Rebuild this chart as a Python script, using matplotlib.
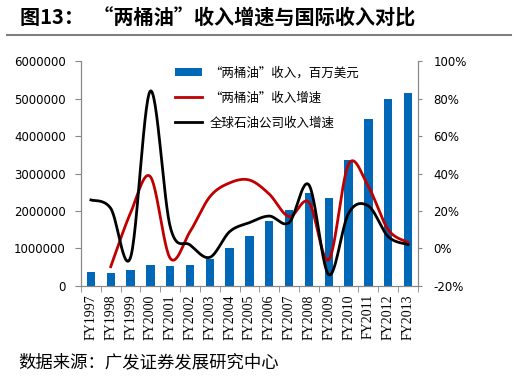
import numpy as np
import matplotlib
matplotlib.use("Agg")
import matplotlib.pyplot as plt
from matplotlib.ticker import FuncFormatter, FixedLocator

plt.rcParams['font.family'] = ['DejaVu Sans', 'Noto Sans CJK SC']

years = ['FY1997', 'FY1998', 'FY1999', 'FY2000', 'FY2001', 'FY2002', 'FY2003',
         'FY2004', 'FY2005', 'FY2006', 'FY2007', 'FY2008', 'FY2009', 'FY2010',
         'FY2011', 'FY2012', 'FY2013']

# "两桶油" revenue, million USD
revenue = [380000, 340000, 420000, 560000, 530000, 560000, 730000, 1010000,
           1340000, 1740000, 2020000, 2490000, 2340000, 3350000, 4460000,
           4990000, 5150000]

# "两桶油" revenue growth (%), starts at FY1998
growth_cn = [-9.7, 19.0, 38.3, -5.2, 9.0, 27.6, 35.0, 36.5, 29.0, 17.0,
             24.6, -6.0, 45.0, 33.0, 10.0, 3.3]

# global oil companies revenue growth (%)
growth_world = [25.9, 21.4, -4.7, 84.0, 11.6, 1.9, -4.7, 9.0, 13.8, 17.3,
                13.8, 33.9, -14.0, 18.8, 22.7, 6.3, 2.1]

CJK = ['Noto Sans CJK SC', 'DejaVu Sans']


def smooth(xs, ys, n=30):
    # Excel-style smoothed line (Catmull-Rom Bezier through the points)
    xs = np.asarray(xs, float)
    ys = np.asarray(ys, float)
    px = np.concatenate([[xs[0]], xs, [xs[-1]]])
    py = np.concatenate([[ys[0]], ys, [ys[-1]]])
    out_x, out_y = [], []
    t = np.linspace(0, 1, n)
    for i in range(1, len(px) - 2):
        p0 = np.array([px[i], py[i]])
        p3 = np.array([px[i + 1], py[i + 1]])
        b1 = p0 + (np.array([px[i + 1], py[i + 1]]) - np.array([px[i - 1], py[i - 1]])) / 6
        b2 = p3 - (np.array([px[i + 2], py[i + 2]]) - np.array([px[i], py[i]])) / 6
        pts = ((1 - t) ** 3)[:, None] * p0 + (3 * (1 - t) ** 2 * t)[:, None] * b1 \
            + (3 * (1 - t) * t ** 2)[:, None] * b2 + (t ** 3)[:, None] * p3
        out_x.extend(pts[:, 0])
        out_y.extend(pts[:, 1])
    return out_x, out_y


fig = plt.figure(figsize=(5.24, 3.78), dpi=100)
ax = fig.add_axes([0.1546, 0.2434, 0.643, 0.5952])
ax2 = ax.twinx()

x = np.arange(len(years))
bars = ax.bar(x, revenue, width=0.42, color='#0068B7', zorder=2,
              label='“两桶油”收入，百万美元')
ax.set_ylim(0, 6000000)
ax.set_xlim(-0.5, len(years) - 0.5)
ax.set_yticks(np.arange(0, 6000001, 1000000))
ax.yaxis.set_major_formatter(FuncFormatter(lambda v, p: '%d' % v))
ax.set_xticks(x)
ax.set_xticklabels(years, rotation=90, family='Liberation Serif', fontsize=10)
ax.xaxis.set_minor_locator(FixedLocator(np.arange(-0.5, len(years), 1)))
ax.tick_params(axis='x', which='major', length=0, pad=6)
ax.tick_params(axis='x', which='minor', length=4, color='#888888')
ax.tick_params(axis='y', length=4, color='#888888', labelsize=8.5, pad=7)

sx, sy = smooth(x[1:], growth_cn)
l1, = ax2.plot(sx, sy, color='#C00000', lw=2.0, label='“两桶油”收入增速', zorder=3)
sx, sy = smooth(x, growth_world)
l2, = ax2.plot(sx, sy, color='black', lw=2.0, label='全球石油公司收入增速', zorder=4)
ax2.set_ylim(-20, 100)
ax2.set_yticks(np.arange(-20, 101, 20))
ax2.yaxis.set_major_formatter(FuncFormatter(lambda v, p: '%d%%' % v))
ax2.tick_params(axis='y', length=3, color='#888888', labelsize=8.5, pad=8)

for a in (ax, ax2):
    a.spines['top'].set_visible(False)
    for s in ('left', 'right', 'bottom'):
        a.spines[s].set_color('#888888')
        a.spines[s].set_linewidth(0.8)

leg = ax2.legend([bars, l1, l2], [bars.get_label(), l1.get_label(), l2.get_label()],
                 loc='upper left', bbox_to_anchor=(0.279, 0.975), frameon=False,
                 prop={'family': CJK, 'size': 9}, handlelength=2.16,
                 handleheight=0.6, labelspacing=0.95, handletextpad=0.6,
                 borderpad=0, borderaxespad=0)

fig.text(0.038, 0.953, '图13：  “两桶油”收入增速与国际收入对比', family=CJK,
         fontsize=14.5, fontweight='bold', va='center', ha='left')
fig.add_artist(plt.Line2D([0.013, 0.975], [0.907, 0.907], color='#808080', lw=1.5))
fig.text(0.034, 0.042, '数据来源：广发证券发展研究中心', family=CJK,
         fontsize=12.5, va='center', ha='left')

fig.savefig('out.png', dpi=100)
